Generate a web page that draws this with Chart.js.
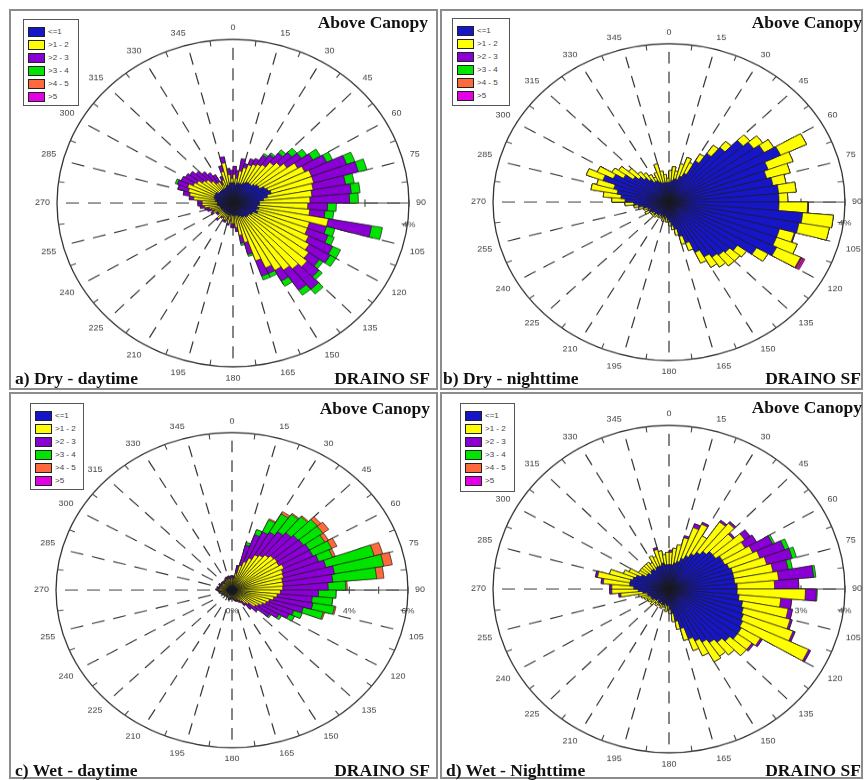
<!DOCTYPE html>
<html>
<head>
<meta charset="utf-8">
<script src="https://cdn.jsdelivr.net/npm/chart.js@4.4.1/dist/chart.umd.min.js"></script>
<style>
  body { margin: 0; background: #fff; }
  #fig { position: relative; width: 865px; height: 780px; overflow: hidden; background: #fff; }
  .panel { position: absolute; box-sizing: border-box; border: 2px solid #8c8c8c; }
  canvas { position: absolute; }
  .ttl { position: absolute; font-family: "Liberation Serif", "Times New Roman", serif; font-weight: bold;
         font-size: 17.5px; line-height: 18px; color: #111; white-space: nowrap; }
  .legend { position: absolute; box-sizing: border-box; border: 1.5px solid #555; background: #fff; }
  .legend .row { position: absolute; left: 4px; height: 10px; font-family: "Liberation Sans", Arial, sans-serif;
                 font-size: 8px; line-height: 10px; color: #444; white-space: nowrap; }
  .legend .sw { display: inline-block; width: 15px; height: 8px; border: 1px solid #222; vertical-align: middle;
                margin-right: 3px; }
</style>
</head>
<body>
<div id="fig">
  <div class="panel" style="left:9px;top:9px;width:429px;height:381px"></div>
  <div class="panel" style="left:440px;top:9px;width:423px;height:381px"></div>
  <div class="panel" style="left:9px;top:392px;width:429px;height:387px"></div>
  <div class="panel" style="left:440px;top:392px;width:423px;height:387px"></div>

  <canvas id="roseA" width="396" height="396" style="left:33px;top:6px;transform:scaleY(0.93)"></canvas>
  <canvas id="roseB" width="396" height="396" style="left:469px;top:5px;transform:scaleY(0.9)"></canvas>
  <canvas id="roseC" width="396" height="396" style="left:32px;top:393px;transform:scaleY(0.895)"></canvas>
  <canvas id="roseD" width="396" height="396" style="left:469px;top:392px;transform:scaleY(0.93)"></canvas>

  <div class="legend" id="legA" style="left:23px;top:19px;width:56px;height:87px"></div>
  <div class="legend" id="legB" style="left:452px;top:18px;width:58px;height:88px"></div>
  <div class="legend" id="legC" style="left:30px;top:403px;width:54px;height:87px"></div>
  <div class="legend" id="legD" style="left:460px;top:403px;width:55px;height:89px"></div>

  <div class="ttl" style="right:437px;top:13px">Above Canopy</div>
  <div class="ttl" style="left:15px;top:369px">a) Dry - daytime</div>
  <div class="ttl" style="right:435px;top:369px">DRAINO SF</div>

  <div class="ttl" style="right:3px;top:13px">Above Canopy</div>
  <div class="ttl" style="left:443px;top:369px">b) Dry - nighttime</div>
  <div class="ttl" style="right:4px;top:369px">DRAINO SF</div>

  <div class="ttl" style="right:435px;top:399px">Above Canopy</div>
  <div class="ttl" style="left:15px;top:761px">c) Wet - daytime</div>
  <div class="ttl" style="right:435px;top:761px">DRAINO SF</div>

  <div class="ttl" style="right:3px;top:398px">Above Canopy</div>
  <div class="ttl" style="left:446px;top:761px">d) Wet - Nighttime</div>
  <div class="ttl" style="right:4px;top:761px">DRAINO SF</div>
</div>

<script>
// 5-degree direction bins, clockwise from north
const dirLabels = [
  "0","5","10","15","20","25","30","35","40","45","50","55",
  "60","65","70","75","80","85","90","95","100","105","110","115",
  "120","125","130","135","140","145","150","155","160","165","170","175",
  "180","185","190","195","200","205","210","215","220","225","230","235",
  "240","245","250","255","260","265","270","275","280","285","290","295",
  "300","305","310","315","320","325","330","335","340","345","350","355"
];

const speedClasses = ["<=1", ">1 - 2", ">2 - 3", ">3 - 4", ">4 - 5", ">5"];
const classColors = ["#1616c8", "#ffff00", "#8a00d4", "#00e400", "#ff6a3c", "#e400e4"];

// a) dry - daytime, frequency (%) per class
const dryDayLe1 = [
  .5,.45,.5,.5,.5,.55, .6,.6,.6,.65,.7,.7,
  .8,.85,.9,.8,.7,.6, .6,.55,.6,.55,.6,.5,
  .5,.45,.45,.45,.4,.4, .35,.35,.3,.3,.3,.3,
  .3,.25,.3,.25,.3,.25, .3,.25,.3,.25,.3,.25,
  .3,.3,.3,.3,.35,.35, .35,.4,.4,.45,.45,.45,
  .45,.4,.4,.4,.4,.4, .4,.4,.45,.45,.5,.5
];
const dryDay1to2 = [
  .2,.15,.3,.4,.5,.5, .5,.55,.7,.75,.8,1.0,
  1.0,1.05,1.0,1.05,1.1,1.15, 1.1,1.2,1.6,1.25,1.2,1.4,
  1.5,1.65,1.75,1.65,1.6,1.5, 1.4,1.15,.7,.5,.3,.2,
  .2,.15,.2,.1,.15,.2, .1,.15,.2,.15,.1,.15,
  .2,.15,.2,.25,.3,.35, .35,.5,.6,.6,.65,.55,
  .5,.45,.4,.3,.2,.2, .1,.2,.35,.55,.2,.1
];
const dryDay2to3 = [
  .2,.2,.3,.1,.15,.15, .25,.3,.3,.35,.4,.4,
  .55,.85,1.05,.75,.9,.9, .45,.35,1.0,.4,.5,.6,
  .55,.3,.35,.65,.6,.3, .15,.4,.3,.2,.1,.1,
  .1,.05,.05,.05,.05,.05, 0,.05,.05,0,.05,.05,
  .05,.05,.1,.1,.1,.1, .1,.1,.15,.25,.25,.3,
  .3,.35,.3,.3,.3,.2, .1,.1,.15,.15,.15,.2
];
const dryDay3to4 = [
  0,0,0,0,0,0, .05,.05,.1,.15,.15,.2,
  .15,.2,.2,.2,.2,.2, .2,.2,.25,.2,.15,.2,
  .15,.1,.1,.15,.15,.15, .1,.1,.05,.05,0,0,
  0,0,0,0,0,0, 0,0,0,0,0,0,
  0,0,0,0,0,0, 0,0,0,0,.05,0,
  0,0,0,0,0,0, 0,0,0,0,0,0
];
const dryDay4to5 = [];
const dryDayGt5 = [];

// b) dry - nighttime
const dryNightLe1 = [
  .5,.55,.6,.6,.7,.8, 1.2,1.5,1.8,2.2,2.35,2.5,
  2.8,2.4,2.3,2.4,2.5,2.5, 2.5,3.05,3.0,2.6,2.6,2.7,
  2.3,1.9,1.8,1.75,1.7,1.6, 1.4,1.1,.9,.7,.6,.5,
  .45,.4,.35,.4,.35,.4, .35,.4,.4,.45,.4,.45,
  .5,.45,.5,.6,.7,.8, 1.0,1.1,1.2,1.3,1.6,1.4,
  1.2,1.0,.9,.8,.7,.6, .6,.55,.5,.5,.5,.5
];
const dryNight1to2 = [
  .3,.35,.2,.4,.5,.3, .2,.25,.2,.2,.25,.25,
  .65,.6,.55,.3,.4,.2, .65,.7,.7,.35,.5,.6,
  .3,.25,.3,.35,.3,.3, .3,.2,.2,.15,.1,.1,
  .05,.1,.05,.1,.05,.05, .1,.05,.1,.05,.1,.05,
  .1,.05,.1,.1,.1,.2, .3,.4,.6,.4,.4,.4,
  .3,.4,.3,.2,.2,.2, .1,.25,.5,.3,.2,.1
];
const dryNight2to3 = [
  0,0,0,0,0,0, 0,0,0,0,0,0,
  0,0,0,0,0,0, .02,0,0,.02,0,.03,
  0,0,0,0,0,0, 0,0,0,0,0,0,
  0,0,0,0,0,0, 0,0,0,0,0,0,
  0,0,0,0,0,0, 0,0,0,0,0,0,
  0,0,0,0,0,0, 0,0,0,0,0,0
];
const dryNight3to4 = [];
const dryNight4to5 = [
  0,0,0,0,0,0, 0,0,0,0,0,0,
  0,0,0,0,0,0, 0,0,0,0,0,.03,
  0,0,0,0,0,0, 0,0,0,0,0,0,
  0,0,0,0,0,0, 0,0,0,0,0,0,
  0,0,0,0,0,0, 0,0,0,0,0,0,
  0,0,0,0,0,0, 0,0,0,0,0,0
];
const dryNightGt5 = [
  0,0,0,0,0,0, 0,0,0,0,0,0,
  0,0,0,0,0,0, 0,0,0,0,0,.05,
  0,0,0,0,0,0, 0,0,0,0,0,0,
  0,0,0,0,0,0, 0,0,0,0,0,0,
  0,0,0,0,0,0, 0,0,0,0,0,0,
  0,0,0,0,0,0, 0,0,0,0,0,0
];

// c) wet - daytime
const wetDayLe1 = [
  .15,.12,.15,.18,.15,.15, .15,.12,.15,.15,.18,.15,
  .15,.15,.12,.15,.15,.18, .15,.15,.15,.12,.15,.15,
  .15,.18,.15,.15,.12,.15, .15,.15,.18,.15,.15,.12,
  .15,.15,.15,.18,.15,.15, .12,.15,.15,.15,.18,.15,
  .15,.12,.15,.15,.15,.18, .15,.15,.12,.15,.15,.15,
  .18,.15,.15,.12,.15,.15, .15,.18,.15,.15,.12,.15
];
const wetDay1to2 = [
  .3,.3,.5,.8,1.0,1.2, 1.4,1.5,1.6,1.7,1.7,1.7,
  1.8,1.7,1.7,1.6,1.6,1.55, 1.5,1.4,1.3,1.2,1.1,1.0,
  .9,.8,.6,.5,.4,.3, .25,.2,.2,.2,.15,.15,
  .1,.15,.1,.15,.1,.1, .15,.1,.1,.15,.1,.15,
  .15,.2,.2,.25,.2,.25, .3,.25,.3,.25,.2,.25,
  .2,.25,.2,.2,.25,.2, .3,.25,.3,.3,.25,.3
];
const wetDay2to3 = [
  .1,.1,.3,.8,1.1,1.1, 1.0,1.1,1.1,1.1,1.1,1.2,
  1.1,1.3,1.5,1.8,1.7,1.55, 1.3,1.2,1.35,1.2,1.0,1.0,
  .8,.6,.4,.3,.2,.1, .1,.1,.05,.05,.05,.05,
  0,.05,0,.05,0,0, .05,0,.05,0,.05,0,
  .05,.05,.05,.05,.05,.05, .1,.05,.1,.05,.05,.1,
  .05,.05,.1,.05,.05,.05, .05,.1,.05,.1,.05,.1
];
const wetDay3to4 = [
  0,0,0,.1,.2,.5, .8,.8,.8,.85,.8,.6,
  .7,.5,1.7,1.7,1.5,.6, .6,.7,.75,.7,.3,.2,
  .1,.05,0,0,0,0, 0,0,0,0,0,0,
  0,0,0,0,0,0, 0,0,0,0,0,0,
  0,0,0,0,0,0, 0,0,0,0,0,0,
  0,0,0,0,0,0, 0,0,0,0,0,0
];
const wetDay4to5 = [
  0,0,0,0,0,.05, .1,.05,.05,.15,.25,.15,
  .2,.1,.3,.3,.25,.05, 0,0,.05,.05,0,0,
  0,0,0,0,0,0, 0,0,0,0,0,0,
  0,0,0,0,0,0, 0,0,0,0,0,0,
  0,0,0,0,0,0, 0,0,0,0,0,0,
  0,0,0,0,0,0, 0,0,0,0,0,0
];
const wetDayGt5 = [];

// d) wet - nighttime
const wetNightLe1 = [
  .6,.6,.65,.7,.8,.9, 1.0,1.1,1.2,1.3,1.3,1.4,
  1.4,1.45,1.5,1.5,1.5,1.55, 1.55,1.6,1.7,1.75,1.8,1.85,
  1.9,1.9,1.8,1.7,1.6,1.5, 1.4,1.3,1.0,.8,.6,.5,
  .4,.4,.35,.4,.4,.35, .4,.4,.35,.4,.4,.45,
  .45,.45,.5,.5,.6,.7, .8,.9,.9,.85,.8,.7,
  .6,.6,.55,.6,.6,.55, .6,.6,.6,.65,.6,.6
];
const wetNight1to2 = [
  .3,.4,.45,.6,.8,.85, .5,.9,.9,.6,.8,.6,
  .7,.75,.8,.9,1.0,.85, 1.55,.95,1.05,1.1,1.2,1.65,
  .5,.4,.5,.4,.4,.55, .4,.3,.3,.2,.2,.1,
  .1,.15,.1,.05,.1,.1, .05,.1,.1,.15,.1,.1,
  .1,.15,.15,.2,.5,.6, .5,.6,.75,.55,.3,.3,
  .2,.2,.25,.2,.2,.2, .3,.25,.4,.3,.25,.3
];
const wetNight2to3 = [
  .05,0,0,.05,.1,.05, 0,.05,.05,.05,.15,.3,
  .5,.6,.6,.35,.8,.55, .25,.25,.1,.05,.05,.05,
  .05,.05,0,0,0,0, 0,0,0,0,0,0,
  0,0,0,0,0,0, 0,0,0,0,0,0,
  0,0,0,0,.05,.05, .05,.05,.05,0,0,0,
  0,0,0,0,0,0, 0,0,.05,0,0,0
];
const wetNight3to4 = [
  0,0,0,0,0,0, 0,0,0,0,0,0,
  .05,.1,.1,.1,.05,0, .02,0,0,0,0,0,
  0,0,0,0,0,0, 0,0,0,0,0,0,
  0,0,0,0,0,0, 0,0,0,0,0,0,
  0,0,0,0,0,0, 0,0,0,0,0,0,
  0,0,0,0,0,0, 0,0,0,0,0,0
];
const wetNight4to5 = [];
const wetNightGt5 = [];

// radial axis maxima and labelled percent ticks
const maxPct = { A: 4, B: 4, C: 6, D: 4 };
const pctTicksA = [4];
const pctTicksB = [4];
const pctTicksC = [0, 4, 6];
const pctTicksD = [3, 4];

// solid percent axis toward 90 deg, small ticks on the rim, percent labels
const radialAxisPlugin = {
  id: 'radialAxis',
  beforeDatasetsDraw(chart) {
    const r = chart.scales.r;
    const ctx = chart.ctx;
    ctx.save();
    ctx.strokeStyle = '#444';
    ctx.lineWidth = 1.1;
    ctx.beginPath();
    ctx.moveTo(r.xCenter, r.yCenter);
    ctx.lineTo(r.xCenter + r.drawingArea, r.yCenter);
    for (let v = 1; v <= r.max; v++) {
      const x = r.xCenter + r.getDistanceFromCenterForValue(v);
      ctx.moveTo(x, r.yCenter - 4);
      ctx.lineTo(x, r.yCenter + 4);
    }
    // rim ticks half way between the 15 degree spokes
    for (let i = 0; i < dirLabels.length; i += 3) {
      const p1 = r.getPointPosition(i, r.drawingArea, Math.PI / 24);
      const p2 = r.getPointPosition(i, r.drawingArea - 6, Math.PI / 24);
      ctx.moveTo(p1.x, p1.y);
      ctx.lineTo(p2.x, p2.y);
    }
    ctx.stroke();
    ctx.restore();
  },
  afterDatasetsDraw(chart, args, opts) {
    const r = chart.scales.r;
    const ctx = chart.ctx;
    ctx.save();
    ctx.fillStyle = '#444';
    ctx.font = '9px "Liberation Sans", Arial, sans-serif';
    ctx.textAlign = 'center';
    ctx.textBaseline = 'middle';
    (opts.ticks || []).forEach(v => {
      const x = r.xCenter + r.getDistanceFromCenterForValue(v);
      ctx.fillText(v + '%', x, r.yCenter + 24);
    });
    ctx.restore();
  }
};

function makeRose(canvasId, classArrays, maxValue, pctTicks) {
  const datasets = [];
  let running = dirLabels.map(() => 0);
  classArrays.forEach((arr, ci) => {
    if (!arr.length) return;
    running = running.map((s, i) => s + (arr[i] || 0));
    datasets.push({
      label: speedClasses[ci],
      data: running.slice(),
      backgroundColor: classColors[ci],
      borderColor: '#1a1a1a',
      borderWidth: 0.7
    });
  });

  new Chart(document.getElementById(canvasId), {
    type: 'polarArea',
    data: { labels: dirLabels, datasets: datasets },
    options: {
      responsive: false,
      animation: false,
      layout: { padding: 0 },
      plugins: {
        legend: { display: false },
        tooltip: { enabled: false },
        radialAxis: { ticks: pctTicks }
      },
      scales: {
        r: {
          min: 0,
          max: maxValue,
          startAngle: 0,
          ticks: { display: false, stepSize: maxValue },
          grid: { circular: true, color: '#333', lineWidth: 1.3 },
          angleLines: {
            display: true,
            color: '#333',
            lineWidth: (c) => (c.index % 3 === 0 ? 1.2 : 0),
            borderDash: [13, 9]
          },
          pointLabels: {
            display: true,
            padding: 7,
            color: '#444',
            font: { family: '"Liberation Sans", Arial, sans-serif', size: 9 },
            callback: (label, i) => (i % 3 === 0 ? label : '')
          }
        }
      }
    },
    plugins: [radialAxisPlugin]
  });
}

function makeLegend(id) {
  const box = document.getElementById(id);
  speedClasses.forEach((name, i) => {
    const row = document.createElement('div');
    row.className = 'row';
    row.style.top = (7 + i * 13) + 'px';
    const sw = document.createElement('span');
    sw.className = 'sw';
    sw.style.background = classColors[i];
    row.appendChild(sw);
    row.appendChild(document.createTextNode(name));
    box.appendChild(row);
  });
}

makeRose('roseA', [dryDayLe1, dryDay1to2, dryDay2to3, dryDay3to4, dryDay4to5, dryDayGt5], maxPct.A, pctTicksA);
makeRose('roseB', [dryNightLe1, dryNight1to2, dryNight2to3, dryNight3to4, dryNight4to5, dryNightGt5], maxPct.B, pctTicksB);
makeRose('roseC', [wetDayLe1, wetDay1to2, wetDay2to3, wetDay3to4, wetDay4to5, wetDayGt5], maxPct.C, pctTicksC);
makeRose('roseD', [wetNightLe1, wetNight1to2, wetNight2to3, wetNight3to4, wetNight4to5, wetNightGt5], maxPct.D, pctTicksD);

['legA', 'legB', 'legC', 'legD'].forEach(makeLegend);
</script>
</body>
</html>
